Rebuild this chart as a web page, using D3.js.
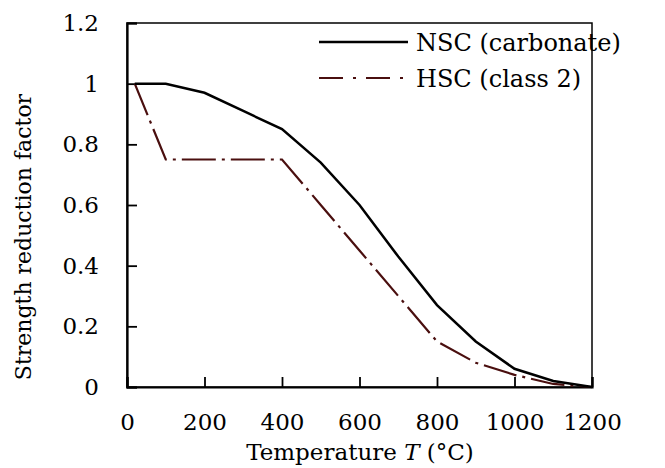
<!DOCTYPE html>
<html><head><meta charset="utf-8">
<script src="https://cdn.jsdelivr.net/npm/d3@7"></script>
<style>body{margin:0;background:#fff}svg{display:block}</style>
</head><body>
<script>
const nscTemp = [20, 100, 200, 300, 400, 500, 600, 700, 800, 900, 1000, 1100, 1200];
const nscFactor = [1, 1, 0.97, 0.91, 0.85, 0.74, 0.60, 0.43, 0.27, 0.15, 0.06, 0.02, 0];
const hscTemp = [20, 100, 200, 300, 400, 500, 600, 700, 800, 900, 1000, 1100, 1200];
const hscFactor = [1, 0.75, 0.75, 0.75, 0.75, 0.60, 0.45, 0.30, 0.15, 0.08, 0.04, 0.01, 0];
const xTicks = [0, 200, 400, 600, 800, 1000, 1200];
const yTicks = [0, 0.2, 0.4, 0.6, 0.8, 1, 1.2];
const yTickLabels = ["0", "0.2", "0.4", "0.6", "0.8", "1", "1.2"];
const seriesNames = ["NSC (carbonate)", "HSC (class 2)"];

const W = 665, H = 468;
const L = 127, R = 592, T = 23, B = 387;
const font = "DejaVu Serif";
const svg = d3.select("body").append("svg").attr("width", W).attr("height", H);

const x = d3.scaleLinear().domain([0, 1200]).range([L, R]);
const y = d3.scaleLinear().domain([0, 1.2]).range([B, T]);

// frame
svg.append("rect").attr("x", L).attr("y", T).attr("width", R - L).attr("height", B - T)
  .attr("fill", "none").attr("stroke", "#000").attr("stroke-width", 1.5);

// axes
const xAxis = svg.append("g").attr("transform", `translate(0,${B})`)
  .call(d3.axisBottom(x).tickValues(xTicks).tickSize(-10).tickPadding(22).tickFormat(d3.format("d")));
const yAxis = svg.append("g").attr("transform", `translate(${L},0)`)
  .call(d3.axisLeft(y).tickValues(yTicks).tickSize(-10).tickPadding(28)
    .tickFormat((d, i) => yTickLabels[i]));
[xAxis, yAxis].forEach(g => {
  g.select(".domain").attr("stroke", "#000").attr("stroke-width", 2.2);
  g.selectAll(".tick line").attr("stroke", "#000").attr("stroke-width", 1.8);
  g.selectAll(".tick text").attr("font-family", font).attr("font-size", 23).attr("fill", "#000");
});
xAxis.selectAll(".tick text").attr("dy", "0.9em");

// lines
const line = d3.line().x(d => x(d[0])).y(d => y(d[1]));
const nsc = nscTemp.map((t, i) => [t, nscFactor[i]]);
const hsc = hscTemp.map((t, i) => [t, hscFactor[i]]);
const dash = "34,6,3,6";
svg.append("path").attr("d", line(hsc)).attr("fill", "none")
  .attr("stroke", "#4a0f0f").attr("stroke-width", 2.2).attr("stroke-dasharray", dash);
svg.append("path").attr("d", line(nsc)).attr("fill", "none")
  .attr("stroke", "#000").attr("stroke-width", 2.5);

// legend
const leg = svg.append("g");
const legY = [42, 78];
leg.append("line").attr("x1", 319).attr("x2", 408).attr("y1", legY[0]).attr("y2", legY[0])
  .attr("stroke", "#000").attr("stroke-width", 2.5);
leg.append("line").attr("x1", 319).attr("x2", 408).attr("y1", legY[1]).attr("y2", legY[1])
  .attr("stroke", "#4a0f0f").attr("stroke-width", 2.2).attr("stroke-dasharray", "24,10,3,10");
seriesNames.forEach((n, i) => {
  leg.append("text").attr("x", 416).attr("y", legY[i]).attr("dy", "0.36em")
    .attr("font-family", font).attr("font-size", 24).attr("fill", "#000").text(n);
});

// axis titles
const xt = svg.append("text").attr("x", 360).attr("y", 460).attr("text-anchor", "middle")
  .attr("font-family", font).attr("font-size", 23).attr("fill", "#000");
xt.append("tspan").text("Temperature ");
xt.append("tspan").attr("font-style", "italic").text("T");
xt.append("tspan").text(" (\u00B0C)");

svg.append("text").attr("transform", `translate(31,237) rotate(-90)`)
  .attr("text-anchor", "middle").attr("font-family", font).attr("font-size", 22)
  .attr("fill", "#000").text("Strength reduction factor");
</script>
</body></html>
